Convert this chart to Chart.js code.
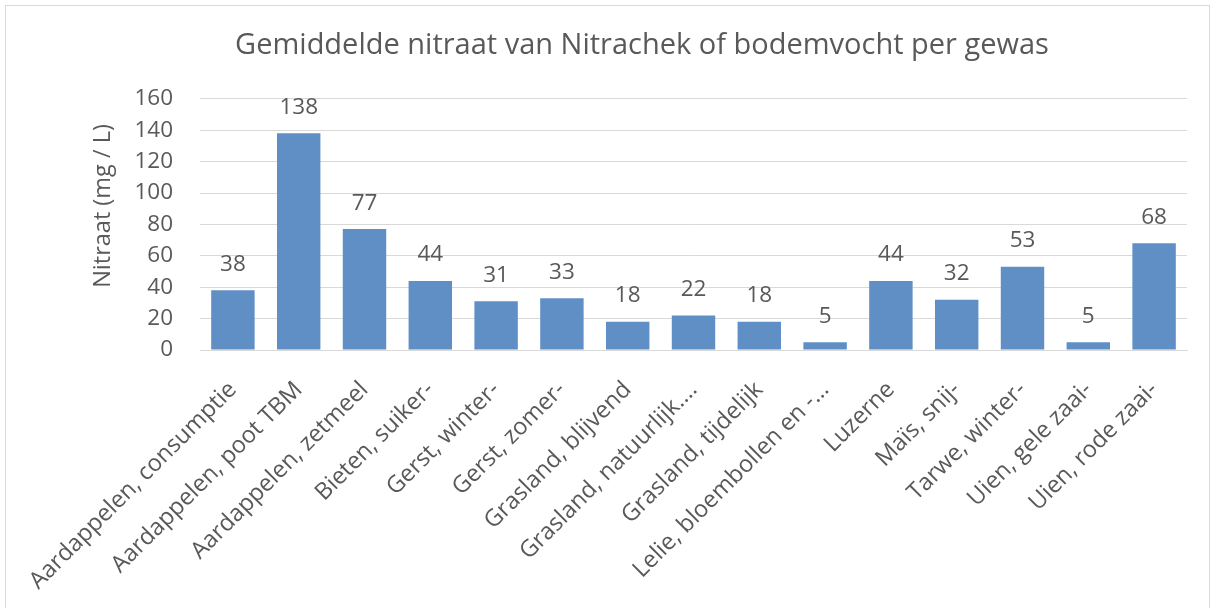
<!DOCTYPE html>
<html>
<head>
<meta charset="utf-8">
<script src="https://cdn.jsdelivr.net/npm/chart.js@4.4.0/dist/chart.umd.min.js"></script>
<style>
  html, body { margin: 0; padding: 0; background: #ffffff; }
  #wrap { width: 1214px; height: 608px; }
</style>
</head>
<body>
<div id="wrap"><canvas id="myChart" width="1214" height="608"></canvas></div>
<script>
  const gewassen = [
      "Aardappelen, consumptie",
      "Aardappelen, poot TBM",
      "Aardappelen, zetmeel",
      "Bieten, suiker-",
      "Gerst, winter-",
      "Gerst, zomer-",
      "Grasland, blijvend",
      "Grasland, natuurlijk.…",
      "Grasland, tijdelijk",
      "Lelie, bloembollen en -…",
      "Luzerne",
      "Maïs, snij-",
      "Tarwe, winter-",
      "Uien, gele zaai-",
      "Uien, rode zaai-"
  ];
  const nitraat = [38, 138, 77, 44, 31, 33, 18, 22, 18, 5, 44, 32, 53, 5, 68];
  const yTicks = [0, 20, 40, 60, 80, 100, 120, 140, 160];
  const yTitle = 'Nitraat (mg / L)';

  const textColor = '#595959';
  const gridColor = '#d9d9d9';
  const fontFamily = '"Open Sans", "Noto Sans", sans-serif';

  // white background + light frame round the whole chart
  const framePlugin = {
      id: 'frame',
      beforeDraw(chart) {
          const c = chart.ctx;
          c.save();
          c.fillStyle = '#ffffff';
          c.fillRect(0, 0, chart.width, chart.height);
          c.strokeStyle = '#d9d9d9';
          c.lineWidth = 1;
          c.strokeRect(5.5, 5.5, 1204, 610);
          c.restore();
      }
  };

  // value above every bar, and the y axis title (sits a bit above the plot centre, like Excel)
  const valueLabels = {
      id: 'valueLabels',
      afterDatasetsDraw(chart) {
          const c = chart.ctx;
          const meta = chart.getDatasetMeta(0);
          c.save();
          c.fillStyle = textColor;
          c.font = '22.5px ' + fontFamily;
          c.textAlign = 'center';
          c.textBaseline = 'middle';
          meta.data.forEach((bar, i) => {
              c.fillText(String(nitraat[i]), bar.x, bar.y - 26);
          });

          c.font = '23.5px ' + fontFamily;
          c.translate(103, 206);
          c.rotate(-Math.PI / 2);
          c.fillText(yTitle, 0, 0);
          c.restore();
      }
  };

  let ctx = document.getElementById("myChart").getContext('2d');
  let myChart = new Chart(ctx, {
      type: 'bar',
      data: {
          labels: gewassen,
          datasets: [{
              label: 'Nitraat',
              data: nitraat,
              backgroundColor: '#5f8fc5',
              borderWidth: 0,
              barPercentage: 0.66,
              categoryPercentage: 1.0
          }]
      },
      options: {
          responsive: false,
          animation: false,
          layout: {
              padding: { top: 10, right: 27, left: 97, bottom: 0 }
          },
          scales: {
              y: {
                  min: 0,
                  max: 160,
                  afterFit(scale) { scale.width = 103; },
                  afterBuildTicks(scale) {
                      scale.ticks = yTicks.map(v => ({ value: v }));
                  },
                  grid: { color: gridColor, drawTicks: false },
                  border: { display: false },
                  ticks: {
                      color: textColor,
                      padding: 27,
                      font: { size: 22.5, family: fontFamily }
                  }
              },
              x: {
                  afterFit(scale) {
                      scale.height = 258;
                      scale.paddingLeft = 0;
                      scale.paddingRight = 0;
                  },
                  grid: { display: false, drawTicks: false },
                  border: { display: true, color: gridColor },
                  ticks: {
                      color: textColor,
                      autoSkip: false,
                      maxRotation: 45,
                      minRotation: 45,
                      padding: 26,
                      font: { size: 23.5, family: fontFamily }
                  }
              }
          },
          plugins: {
              legend: { display: false },
              tooltip: { enabled: false },
              title: {
                  display: true,
                  text: 'Gemiddelde nitraat van Nitrachek of bodemvocht per gewas',
                  color: textColor,
                  font: { size: 29, weight: 'normal', family: fontFamily },
                  padding: { top: 18, bottom: 36 }
              }
          }
      },
      plugins: [framePlugin, valueLabels]
  });
</script>
</body>
</html>
